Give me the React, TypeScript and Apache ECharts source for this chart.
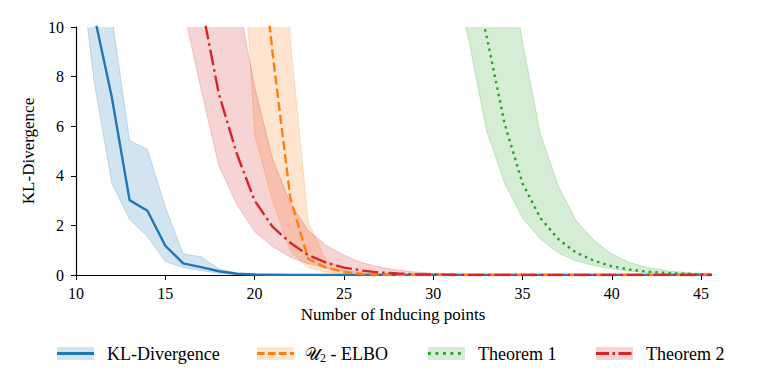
import React, { useEffect, useRef } from "react";
import * as echarts from "echarts";

const xTicks = [10, 15, 20, 25, 30, 35, 40, 45];
const yTicks = [0, 2, 4, 6, 8, 10];

const blueX = [10, 11, 12, 13, 14, 15, 16, 17, 18, 19, 20, 21, 22, 46];
const blueMean = [18, 10.54, 7.19, 3.02, 2.59, 1.18, 0.47, 0.32, 0.15, 0.05, 0.02, 0.01, 0, 0];
const blueLower = [13.97, 7.86, 3.72, 2.24, 1.55, 0.54, 0.3, 0.18, 0.06, 0.02, 0.01, 0, 0, 0];
const blueUpper = [25, 16, 10.45, 5.42, 5.07, 2.75, 0.85, 0.74, 0.25, 0.08, 0.03, 0.01, 0, 0];

const orangeX = [19, 20, 21, 22, 23, 24, 25, 26, 27, 28, 29, 46];
const orangeMean = [25, 15.7, 9.0, 3.1, 0.65, 0.3, 0.12, 0.04, 0.015, 0.005, 0, 0];
const orangeLower = [17.7, 5.65, 3.0, 0.95, 0.3, 0.12, 0.05, 0.02, 0.01, 0, 0, 0];
const orangeUpper = [40, 35, 25, 9.5, 2.15, 0.6, 0.2, 0.08, 0.03, 0.01, 0, 0];

const greenX = [30, 31, 32, 33, 34, 35, 36, 37, 38, 39, 40, 41, 42, 43, 44, 45, 46];
const greenMean = [30, 20, 12.7, 9.6, 6.1, 3.7, 2.3, 1.45, 0.9, 0.58, 0.35, 0.22, 0.13, 0.08, 0.05, 0.03, 0.02];
const greenLower = [25, 12.8, 9.45, 5.8, 3.7, 2.3, 1.45, 0.9, 0.56, 0.38, 0.25, 0.15, 0.09, 0.05, 0.03, 0.02, 0.01];
const greenUpper = [40, 35, 30, 22, 14, 9.4, 5.7, 3.6, 2.2, 1.4, 0.85, 0.5, 0.3, 0.18, 0.11, 0.06, 0.04];

const redX = [15, 16, 17, 18, 19, 20, 21, 22, 23, 24, 25, 26, 27, 28, 29, 30, 31, 32, 33, 34, 46];
const redMean = [25, 16, 11.0, 7.3, 4.9, 3.0, 1.95, 1.3, 0.8, 0.5, 0.3, 0.18, 0.1, 0.06, 0.03, 0.02, 0.01, 0, 0, 0, 0];
const redLower = [16, 10.75, 7.5, 4.4, 2.85, 1.75, 1.15, 0.72, 0.45, 0.28, 0.15, 0.08, 0.04, 0.02, 0.01, 0, 0, 0, 0, 0, 0];
const redUpper = [45, 38, 30, 18, 11.35, 7.6, 4.7, 2.9, 1.8, 1.2, 0.8, 0.5, 0.32, 0.2, 0.12, 0.07, 0.04, 0.02, 0.01, 0, 0];

const legendNames = ["KL-Divergence", "𝒰₂ - ELBO", "Theorem 1", "Theorem 2"];

const BLUE = [31, 119, 180];
const ORANGE = [255, 127, 14];
const GREEN = [44, 160, 44];
const RED = [214, 39, 40];
const rgba = (c: number[], a: number) => `rgba(${c[0]},${c[1]},${c[2]},${a})`;

const FONT = "Liberation Serif";

const LW = 2.4;
const DASHED = [9.2, 4];
const DOTTED = [2.5, 4.1];
const DASHDOT = [16, 4, 2.5, 4];

function bandSeries(id: string, xs: number[], lower: number[], upper: number[], c: number[]) {
  return {
    type: "custom",
    id: id + "-band",
    silent: true,
    clip: true,
    data: xs.map((x, i) => [x, lower[i], upper[i]]),
    encode: { x: 0, y: [1, 2] },
    renderItem: (params: any, api: any) => {
      if (params.dataIndex !== 0) return null;
      const lo = xs.map((x, i) => api.coord([x, lower[i]]));
      const hi = xs.map((x, i) => api.coord([x, upper[i]]));
      const poly = lo.concat(hi.slice().reverse());
      return {
        type: "group",
        children: [
          { type: "polygon", shape: { points: poly }, style: { fill: rgba(c, 0.2), stroke: "none" } },
          { type: "polyline", shape: { points: lo }, style: { fill: "none", stroke: rgba(c, 0.22), lineWidth: 1 } },
          { type: "polyline", shape: { points: hi }, style: { fill: "none", stroke: rgba(c, 0.22), lineWidth: 1 } },
        ],
      };
    },
  };
}

function meanSeries(name: string, xs: number[], ys: number[], c: number[], type: any) {
  return {
    type: "line",
    name,
    data: xs.map((x, i) => [x, ys[i]]),
    symbol: "none",
    clip: true,
    lineStyle: { color: rgba(c, 1), width: LW, type, cap: "butt" },
  };
}

function legendItem(x: number, c: number[], dash: any, label: string, rich?: boolean) {
  const children: any[] = [
    { type: "rect", shape: { x, y: 347, width: 37, height: 13 }, style: { fill: rgba(c, 0.2) } },
    {
      type: "line",
      shape: { x1: x, y1: 353.5, x2: x + 37, y2: 353.5 },
      style: { stroke: rgba(c, 1), lineWidth: 2.8, lineDash: dash },
    },
  ];
  if (rich) {
    children.push({
      type: "text",
      x: x + 48,
      y: 354,
      style: {
        text: "{cal|𝒰}{sub|2} - ELBO",
        fill: "#000",
        fontFamily: FONT,
        fontSize: 18,
        verticalAlign: "middle",
        rich: {
          cal: { fontFamily: "DejaVu Serif", fontSize: 17, fill: "#000" },
          sub: { fontFamily: FONT, fontSize: 12, fill: "#000", padding: [8, 0, 0, 0] },
        },
      },
    });
  } else {
    children.push({
      type: "text",
      x: x + 50,
      y: 354,
      style: { text: label, fill: "#000", fontFamily: FONT, fontSize: 18, verticalAlign: "middle" },
    });
  }
  return { type: "group", children };
}

export default function App() {
  const ref = useRef<HTMLDivElement>(null);
  useEffect(() => {
    if (!ref.current) return;
    const chart = echarts.init(ref.current, undefined, { renderer: "svg" });
    const option: any = {
      animation: false,
      backgroundColor: "#fff",
      textStyle: { fontFamily: FONT },
      grid: { left: 76, right: 54, top: 27, bottom: 107, containLabel: false },
      xAxis: {
        type: "value",
        min: 10,
        max: 45.5,
        interval: 5,
        name: "Number of Inducing points",
        nameLocation: "middle",
        nameGap: 31,
        nameTextStyle: { fontFamily: FONT, fontSize: 17, color: "#000" },
        axisLine: { show: true, onZero: false, lineStyle: { color: "#000", width: 1.2 } },
        axisTick: { show: true, length: 5, lineStyle: { color: "#000", width: 1 }, customValues: xTicks },
        axisLabel: { fontFamily: FONT, fontSize: 16, color: "#000", margin: 10, customValues: xTicks },
        splitLine: { show: false },
      },
      yAxis: {
        type: "value",
        min: 0,
        max: 10,
        interval: 2,
        name: "KL-Divergence",
        nameLocation: "middle",
        nameGap: 38,
        nameTextStyle: { fontFamily: FONT, fontSize: 17, color: "#000" },
        axisLine: { show: true, lineStyle: { color: "#000", width: 1.2 } },
        axisTick: { show: true, length: 5, lineStyle: { color: "#000", width: 1 }, customValues: yTicks },
        axisLabel: { fontFamily: FONT, fontSize: 16, color: "#000", margin: 12, customValues: yTicks },
        splitLine: { show: false },
      },
      series: [
        bandSeries("blue", blueX, blueLower, blueUpper, BLUE),
        meanSeries(legendNames[0], blueX, blueMean, BLUE, "solid"),
        bandSeries("orange", orangeX, orangeLower, orangeUpper, ORANGE),
        meanSeries(legendNames[1], orangeX, orangeMean, ORANGE, DASHED),
        bandSeries("green", greenX, greenLower, greenUpper, GREEN),
        meanSeries(legendNames[2], greenX, greenMean, GREEN, DOTTED),
        bandSeries("red", redX, redLower, redUpper, RED),
        meanSeries(legendNames[3], redX, redMean, RED, DASHDOT),
      ],
      graphic: [
        legendItem(57, BLUE, null, legendNames[0]),
        legendItem(257, ORANGE, [7.5, 3.5], legendNames[1], true),
        legendItem(428, GREEN, [2.8, 4.7], legendNames[2]),
        legendItem(596, RED, [13, 3.5, 2.5, 3.5], legendNames[3]),
      ],
    };
    chart.setOption(option);
    return () => chart.dispose();
  }, []);
  return <div ref={ref} style={{ position: "fixed", left: 0, top: 0, width: 764, height: 382 }} />;
}
